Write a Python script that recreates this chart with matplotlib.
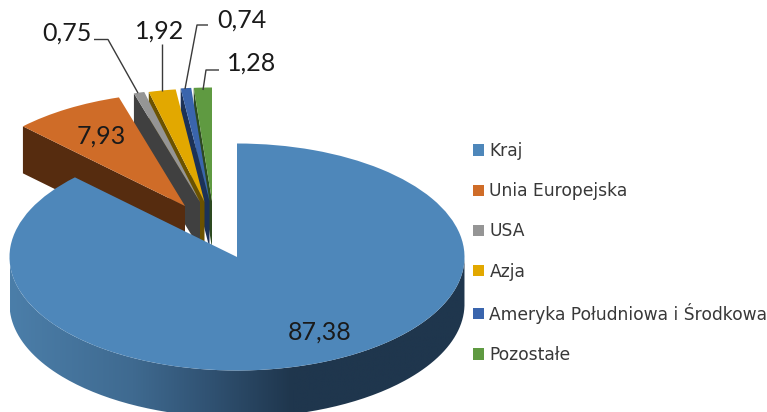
import numpy as np
import matplotlib
matplotlib.use('Agg')
import matplotlib.pyplot as plt
from matplotlib.patches import Wedge, Patch, PathPatch
from matplotlib.path import Path
from matplotlib.colors import LinearSegmentedColormap

plt.rcParams['font.family'] = ['Lato', 'DejaVu Sans']

# =====================================
# Data
# =====================================
categories = ['Kraj', 'Unia Europejska', 'USA', 'Azja',
              'Ameryka Południowa i Środkowa', 'Pozostałe']
values = [87.38, 7.93, 0.75, 1.92, 0.74, 1.28]

# =====================================
# Styles and layout (pixels of the 767x412 picture)
# =====================================
top_colors = ['#4E87BA', '#CF6C28', '#959595', '#E2A800', '#3A65AD', '#5F9A41']
wall_colors = ['#2F5070', '#562C0F', '#404040', '#6B5200', '#1C3258', '#2D4A20']

W, H = 767, 412
CX, CY = 237, 257
RX, RY = 227.5, 113.5
DEPTH = 47
# the centre of every slice, the pie is exploded by hand
apex_px = [(237, 257), (185, 206), (200, 202), (204.5, 202), (209.5, 201), (212, 201)]
# drawn from the right to the left so the near slices cover the far ones
draw_order = [5, 4, 3, 2, 1]

label_px = [(320, 332), (101.5, 136), (66.5, 33), (159.5, 31), (241.5, 20), (252, 63)]
leader_px = {
    2: [(94, 39.5), (108, 39.5), (138, 93)],
    3: [(162, 44), (162, 91)],
    4: [(208, 25), (197, 25), (185, 89)],
    5: [(219, 70), (206, 70), (203, 90)],
}


def px(x, y):
    return (x - CX) / RX, (CY - y) / RY


fig = plt.figure(figsize=(W / 100, H / 100), dpi=100)
ax = fig.add_axes([0, 0, 1, 1])
ax.set_xlim(px(0, 0)[0], px(W, 0)[0])
ax.set_ylim(px(0, H)[1], px(0, 0)[1])
ax.axis('off')

depth = DEPTH / RY

# Slice angles, clockwise from 12 o'clock
shares = np.array(values) / np.sum(values) * 360
ends = np.cumsum(shares)
starts = ends - shares


def std_angle(a):
    return 90 - a


# =====================================
# Exploded slices
# =====================================
for i in draw_order:
    x0, y0 = px(*apex_px[i])
    t = np.radians(std_angle(starts[i]))
    xe, ye = x0 + np.cos(t), y0 + np.sin(t)
    ax.fill([x0, xe, xe, x0], [y0, ye, ye - depth, y0 - depth],
            color=wall_colors[i], lw=0, zorder=2 + (5 - i) * 2)
    ax.add_patch(Wedge((x0, y0), 1, std_angle(ends[i]), std_angle(starts[i]),
                       facecolor=top_colors[i], lw=0, zorder=3 + (5 - i) * 2))

# =====================================
# Main slice with the shaded rim
# =====================================
theta = np.radians(np.linspace(180, 360, 200))
rim_x = np.cos(theta)
rim_y = np.sin(theta)
rim_path = Path(np.column_stack([np.r_[rim_x, rim_x[::-1]],
                                 np.r_[rim_y, rim_y[::-1] - depth]]))
rim_cmap = LinearSegmentedColormap.from_list(
    'rim', [(0, '#4B7EA9'), (0.27, '#3F6A90'), (0.45, '#2F5070'),
            (0.62, '#1F364D'), (1, '#1F364D')])
rim_img = ax.imshow(np.linspace(0, 1, 256).reshape(1, -1), cmap=rim_cmap, aspect='auto',
                    extent=[-1, 1, -1 - depth, 0], zorder=14)
rim_patch = PathPatch(rim_path, transform=ax.transData, facecolor='none', lw=0)
ax.add_patch(rim_patch)
rim_img.set_clip_path(rim_patch)
ax.set_xlim(px(0, 0)[0], px(W, 0)[0])
ax.set_ylim(px(0, H)[1], px(0, 0)[1])

ax.add_patch(Wedge((0, 0), 1, std_angle(ends[0]), std_angle(starts[0]),
                   facecolor=top_colors[0], lw=0, zorder=15))

# =====================================
# Labels and leader lines
# =====================================
for i, val in enumerate(values):
    lx, ly = px(*label_px[i])
    ax.text(lx, ly, f'{val:.2f}'.replace('.', ','), fontsize=18, color='#1a1a1a',
            ha='center', va='center', zorder=20)

for i, pts in leader_px.items():
    pts_d = [px(*p) for p in pts]
    ax.plot([p[0] for p in pts_d], [p[1] for p in pts_d], color='#3a3a3a', lw=1,
            solid_capstyle='butt', zorder=19)

# =====================================
# Legend
# =====================================
handles = [Patch(facecolor=c, lw=0, label=n) for c, n in zip(top_colors, categories)]
leg = ax.legend(handles=handles, loc='upper left', bbox_to_anchor=(473 / W, 1 - 142 / H),
                frameon=False, prop={'family': 'DejaVu Sans', 'size': 12.3},
                handlelength=0.63, handleheight=0.63,
                handletextpad=0.33, labelspacing=1.3, borderpad=0, borderaxespad=0,
                labelcolor='#383838')
leg.set_zorder(20)

plt.savefig('out.png', dpi=100)
